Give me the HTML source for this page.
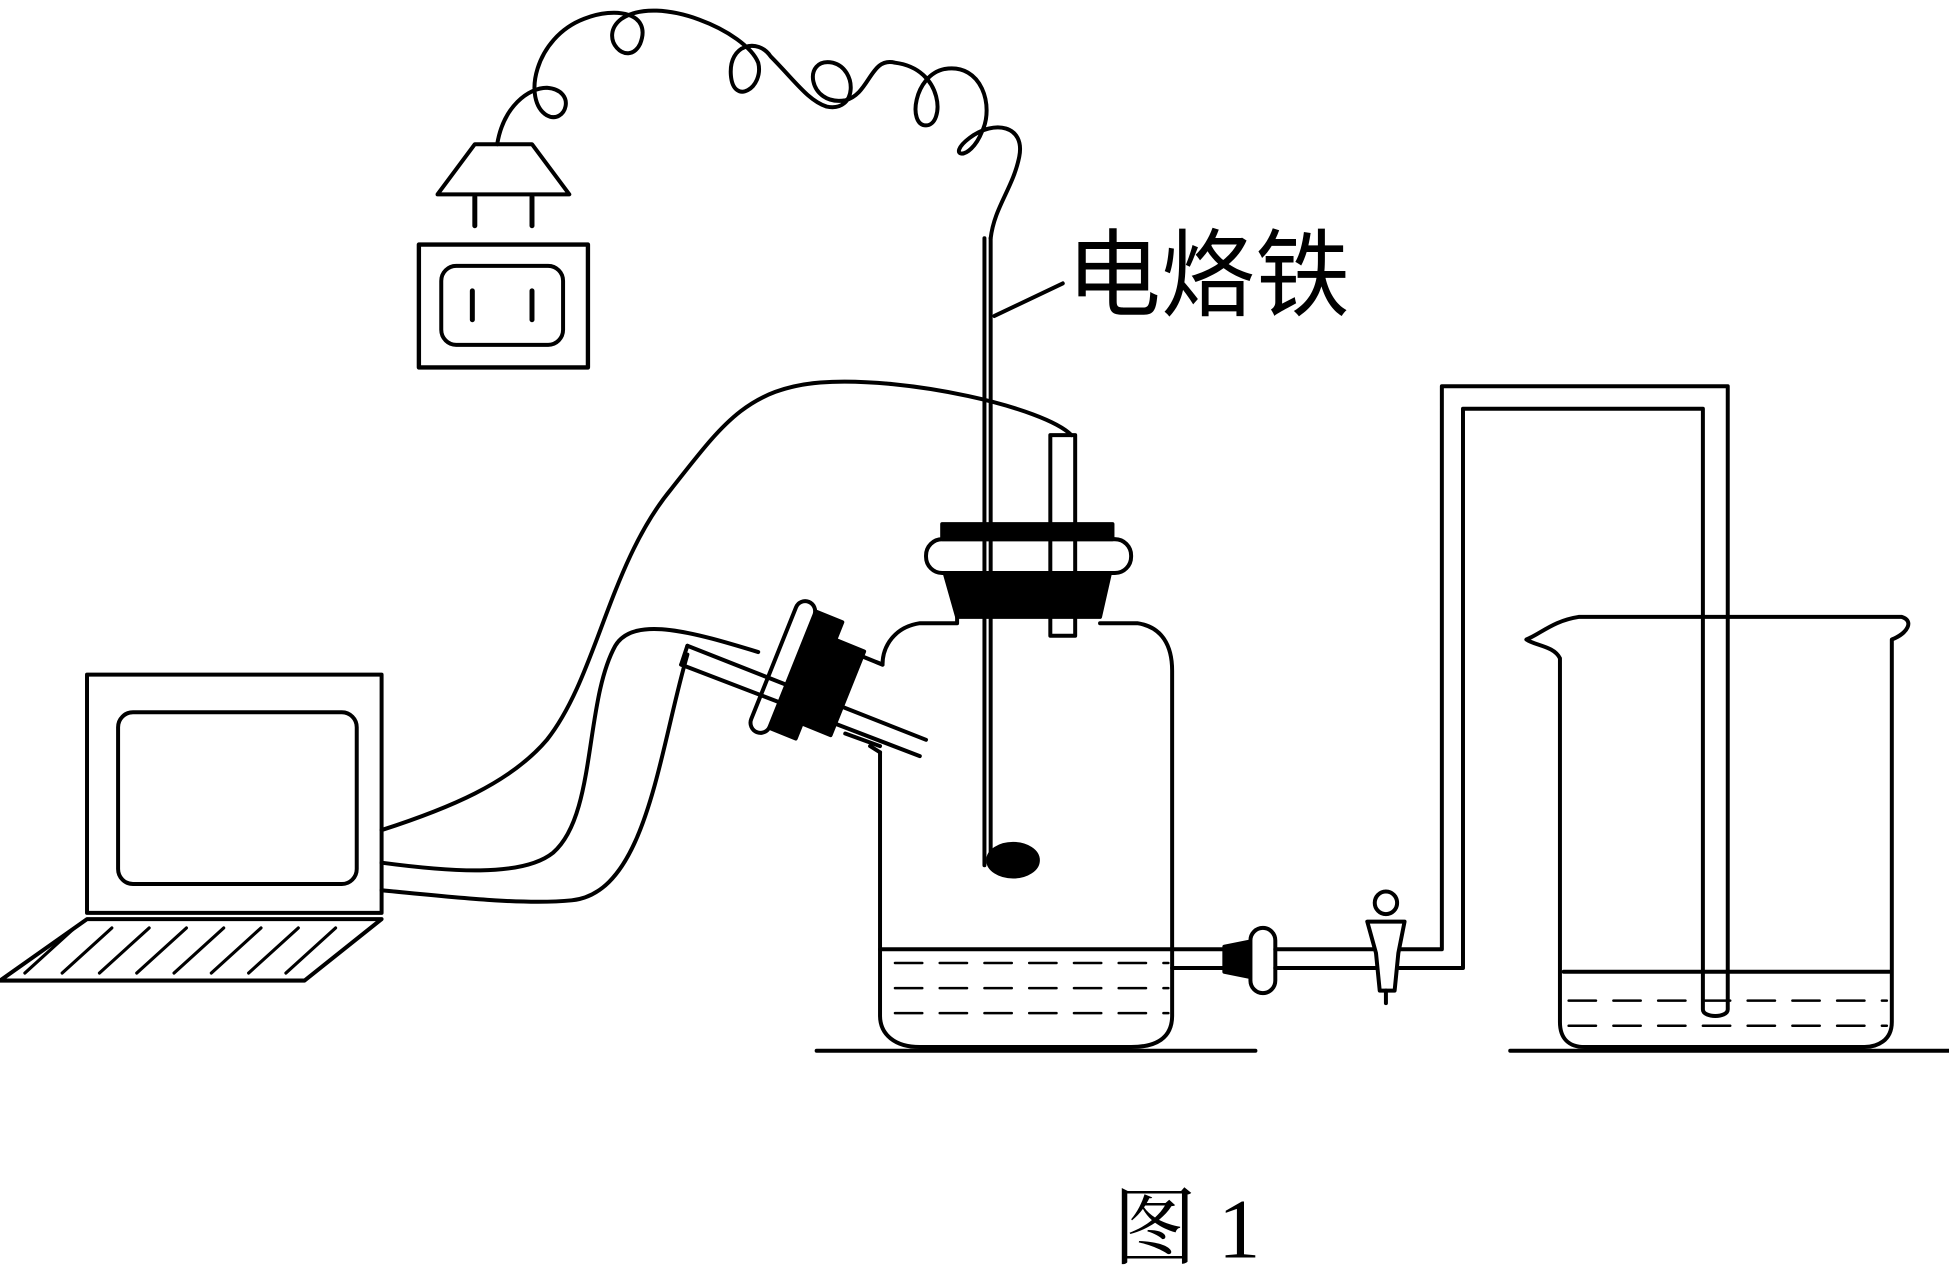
<!DOCTYPE html>
<html><head><meta charset="utf-8"><style>
html,body{margin:0;padding:0;background:#fff;}
svg{display:block;}
</style></head><body>
<svg width="1949" height="1279" viewBox="0 0 1568 1020" preserveAspectRatio="none" xmlns="http://www.w3.org/2000/svg">
<g fill="none" stroke="#000" stroke-width="3.2" stroke-linejoin="round" stroke-linecap="round">
<rect x="337" y="195" width="136" height="98" stroke-width="3.5"/>
<rect x="355" y="212" width="98" height="63" rx="12"/>
<line x1="380" y1="232" x2="380" y2="255" stroke-width="4"/>
<line x1="428" y1="232" x2="428" y2="255" stroke-width="4"/>
<path d="M382 115 L428 115 L458 155 L352 155 Z"/>
<line x1="382" y1="157" x2="382" y2="180" stroke-width="4"/>
<line x1="428" y1="157" x2="428" y2="180" stroke-width="4"/>
<path d="M400 115 C405 85 425 70 440 70 C465 72 455 100 440 92 C420 80 430 30 470 15 C495 5 525 10 515 35 C505 55 480 30 500 15 C530 -5 600 25 610 50 C615 70 590 85 588 60 C586 35 610 30 620 45 C640 65 650 80 665 85 C690 90 690 55 670 50 C645 45 650 85 680 80 C700 75 700 45 720 50 C760 55 760 100 745 100 C730 100 735 60 760 55 C790 50 800 85 790 105 C780 130 760 125 780 110 C800 95 825 100 820 125 C815 150 800 165 797 190"/>
<path d="M792 190 L792 690 M797 190 L797 690"/>
<ellipse cx="815" cy="686" rx="20" ry="13" fill="#000"/>
<line x1="800" y1="252" x2="855" y2="226"/>
<rect x="845" y="347" width="20" height="160"/>
<rect x="745" y="430" width="165" height="27" rx="13"/>
<path d="M758 418 L895 418 L895 430 L758 430 Z" fill="#000"/>
<path d="M760 457 L893 457 L885 492 L770 492 Z" fill="#000"/>
<path d="M770 492 L770 497 L740 497 C720 500 710 515 710 530 M885 497 L915 497 C935 500 943 515 943 535 L943 810 C943 828 930 835 910 835 L740 835 C720 835 708 825 708 810 L708 600"/>
<path d="M710 530 L705 528 M708 600 L700 595"/>
<path d="M710 530 L685 520 M708 595 L680 585"/>
<g transform="translate(645 537) rotate(22)">
<rect x="-15" y="-50" width="30" height="100" fill="#000"/>
<rect x="-24" y="-55" width="16" height="112" rx="8" fill="#fff"/>
<rect x="15" y="-35" width="25" height="72" fill="#000"/>
</g>
<path d="M553 515 L745 590 M548 530 L740 603"/>
<path d="M553 515 L548 530"/>
<path d="M708 757 L943 757"/>
<g stroke-dasharray="22 14" stroke-width="2">
<line x1="720" y1="768" x2="940" y2="768"/>
<line x1="720" y1="788" x2="940" y2="788"/>
<line x1="720" y1="808" x2="940" y2="808"/>
</g>
<path d="M943 757 L990 757 M943 772 L990 772"/>
<path d="M985 755 L1010 750 L1010 780 L985 775 Z" fill="#000"/>
<rect x="1006" y="740" width="20" height="52" rx="10" fill="#fff"/>
<path d="M1026 757 L1155 757 L1160 757 L1160 308 L1390 308 L1390 805 C1390 812 1370 812 1370 805 L1370 326 L1177 326 L1177 772 L1026 772"/>
<path d="M1100 735 L1130 735 L1125 760 L1122 790 L1110 790 L1107 760 Z" fill="#fff"/>
<circle cx="1115" cy="720" r="9"/>
<line x1="1115" y1="790" x2="1115" y2="800"/>
<path d="M1228 510 C1240 505 1250 495 1270 492 L1530 492 C1540 495 1535 505 1522 510 L1522 815 C1522 830 1510 835 1500 835 L1275 835 C1262 835 1255 828 1255 815 L1255 525 C1250 515 1235 515 1228 510 Z"/>
<path d="M1258 775 L1520 775"/>
<g stroke-dasharray="22 14" stroke-width="2">
<line x1="1262" y1="798" x2="1518" y2="798"/>
<line x1="1262" y1="818" x2="1518" y2="818"/>
</g>
<line x1="657" y1="838" x2="1010" y2="838"/>
<line x1="1215" y1="838" x2="1568" y2="838"/>
<rect x="70" y="538" width="237" height="190"/>
<rect x="95" y="568" width="192" height="137" rx="12"/>
<path d="M70 733 L307 733 L245 782 L0 782 Z"/>
<g stroke-width="2.5">
<line x1="60" y1="740" x2="20" y2="776"/><line x1="90" y1="740" x2="50" y2="776"/>
<line x1="120" y1="740" x2="80" y2="776"/><line x1="150" y1="740" x2="110" y2="776"/>
<line x1="180" y1="740" x2="140" y2="776"/><line x1="210" y1="740" x2="170" y2="776"/>
<line x1="240" y1="740" x2="200" y2="776"/><line x1="270" y1="740" x2="230" y2="776"/>
</g>
<path d="M307 662 C360 645 410 625 440 590 C480 540 490 450 540 390 C580 340 600 310 660 305 C730 300 840 325 862 347"/>
<path d="M307 688 C360 695 420 700 445 680 C480 650 470 560 495 515 C510 490 560 505 610 520"/>
<path d="M307 710 C360 715 420 722 460 718 C520 712 530 600 553 522"/>
</g>
<text x="858" y="246" font-family="'Liberation Sans','Noto Sans CJK SC',sans-serif" font-size="76">电烙铁</text>
<text x="895" y="1003" font-family="'Liberation Serif','Noto Serif CJK SC',serif" font-size="68">图 1</text>
</svg>
</body></html>
